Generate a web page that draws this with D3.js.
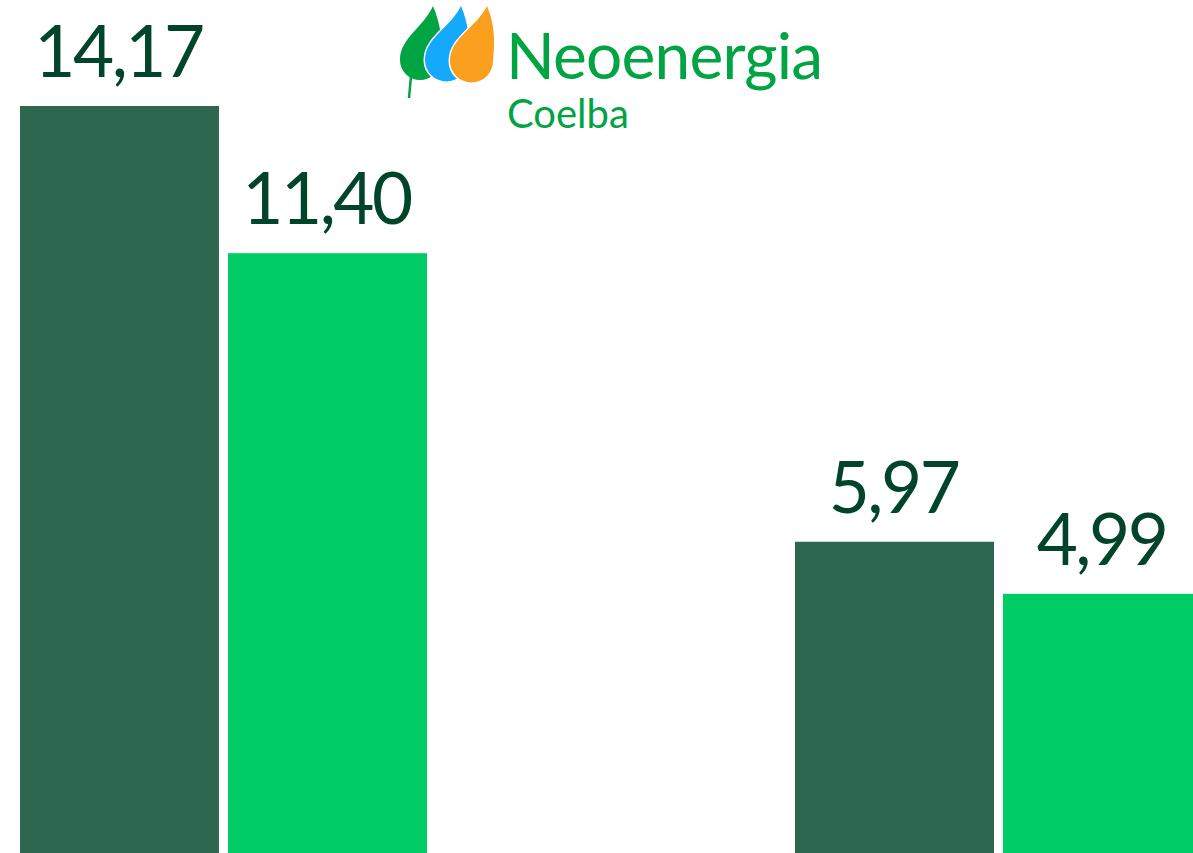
<!DOCTYPE html>
<html>
<head>
<meta charset="utf-8">
<script src="https://cdn.jsdelivr.net/npm/d3@7"></script>
<style>
  html, body { margin: 0; padding: 0; background: #ffffff; overflow: hidden; }
  svg { display: block; }
</style>
</head>
<body>
<svg id="chart" width="1193" height="853"></svg>
<script>
// ---- data ----
const categories = ["Indicador 1", "Indicador 2"];
const seriesNames = ["Série A", "Série B"];
const seriesA = [14.17, 5.97];
const seriesB = [11.40, 4.99];
const seriesColors = ["#2e6750", "#00cc66"];
const brandName = "Neoenergia";
const brandSub = "Coelba";

const W = 1193, H = 853;
const svg = d3.select("#chart");

const rows = categories.map((c, i) => ({ cat: c, vals: [seriesA[i], seriesB[i]] }));

// scales
const x0 = d3.scaleBand().domain(categories).range([20, 1570]).paddingInner(0).paddingOuter(0);
const x1 = d3.scaleBand().domain(seriesNames).range([0, 407]).paddingInner(9 / 208).paddingOuter(0);
const y = d3.scaleLinear().domain([0, 14.17]).range([859, 106]);
const color = d3.scaleOrdinal().domain(seriesNames).range(seriesColors);
const fmt = v => d3.format(".2f")(v).replace(".", ",");

const g = svg.append("g");
const groups = g.selectAll("g.grp").data(rows).join("g")
  .attr("class", "grp")
  .attr("transform", d => `translate(${x0(d.cat)},0)`);

const cells = groups.selectAll("g.cell")
  .data(d => d.vals.map((v, j) => ({ s: seriesNames[j], v })))
  .join("g").attr("class", "cell");

cells.append("rect")
  .attr("x", d => x1(d.s))
  .attr("y", d => y(d.v))
  .attr("width", x1.bandwidth())
  .attr("height", d => y(0) - y(d.v))
  .attr("fill", d => color(d.s));

cells.append("text")
  .attr("x", d => x1(d.s) + x1.bandwidth() / 2 - 1)
  .attr("y", d => y(d.v) - 29)
  .attr("text-anchor", "middle")
  .attr("font-family", "Lato, 'Noto Sans', sans-serif")
  .attr("font-weight", 400)
  .attr("font-size", 71)
  .attr("letter-spacing", -2.5)
  .attr("fill", "#00442a")
  .text(d => fmt(d.v));

// ---- logo ----
const logo = svg.append("g");
const leafGreen = "M433,6 C441,25 443,42 440,60 A20,20 0 0 1 400,60 C400,38 423,28 433,6 Z";
const leafBlue = "M461,6 C469,25 470,42 468,60 A21.5,21.5 0 0 1 425,60 C425,38 450,28 461,6 Z";
const leafOrange = "M487,6 C495,25 495,42 493,61 A21.5,21.5 0 0 1 450,61 C450,38 476,28 487,6 Z";
logo.append("path").attr("d", "M411,76 L409,98").attr("stroke", "#00a443").attr("stroke-width", 2.5).attr("fill", "none");
logo.append("path").attr("d", leafGreen).attr("fill", "#00a443");
logo.append("path").attr("d", leafBlue).attr("fill", "#14a9fb").attr("stroke", "#fff").attr("stroke-width", 3).attr("paint-order", "stroke");
logo.append("path").attr("d", leafOrange).attr("fill", "#fa9f1e").attr("stroke", "#fff").attr("stroke-width", 3).attr("paint-order", "stroke");

logo.append("text")
  .attr("x", 506).attr("y", 79)
  .attr("font-family", "Lato, 'Noto Sans', sans-serif")
  .attr("font-size", 64)
  .attr("letter-spacing", -0.8)
  .attr("fill", "#00a443")
  .text(brandName);
logo.append("text")
  .attr("x", 507).attr("y", 128)
  .attr("font-family", "Lato, 'Noto Sans', sans-serif")
  .attr("font-size", 40)
  .attr("fill", "#00a443")
  .text(brandSub);
</script>
</body>
</html>
